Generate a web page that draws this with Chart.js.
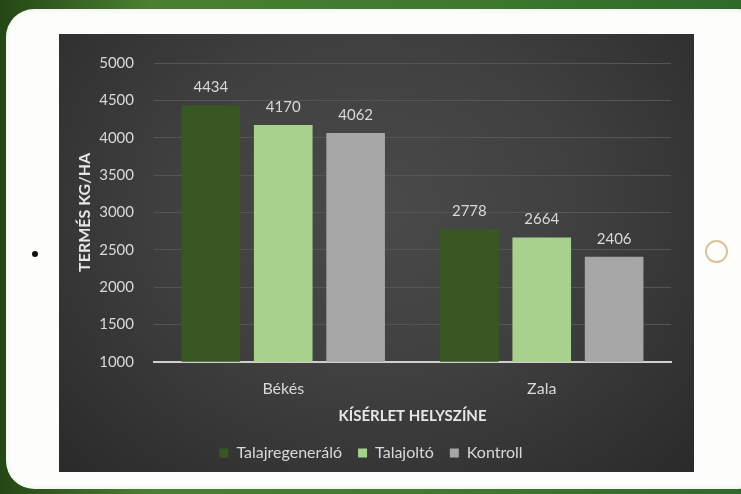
<!DOCTYPE html>
<html>
<head>
<meta charset="utf-8">
<script src="https://cdn.jsdelivr.net/npm/chart.js@4/dist/chart.umd.min.js"></script>
<style>
  html, body { margin:0; padding:0; width:741px; height:494px; overflow:hidden; }
  body { background: linear-gradient(90deg, #244716 0%, #4a8030 20%, #3f7a2e 60%, #2e6a2a 100%); position:relative; }
  #frame { position:absolute; left:6px; top:9px; width:760px; height:480px; background:#fdfdfc;
           border-radius:28px; box-shadow: inset 0 0 6px rgba(0,0,0,0.08); }
  #dot { position:absolute; left:32px; top:251px; width:6px; height:6px; border-radius:50%; background:#111; }
  #home { position:absolute; left:705px; top:240px; width:23px; height:23px; border-radius:50%;
          border:2px solid #d8c39c; box-sizing:border-box; }
  #panel { position:absolute; left:59px; top:34px; width:635px; height:438px;
           background: radial-gradient(ellipse at 50% 40%, #4a4a4a 0%, #404040 45%, #2a2a2a 100%); }
</style>
</head>
<body>
<div id="frame"></div>
<div id="dot"></div>
<div id="home"></div>
<div id="panel"><canvas id="c" width="635" height="438"></canvas></div>
<script>
"use strict";
// dati
const categories = ["Békés", "Zala"];
const seriesNames = ["Talajregeneráló", "Talajoltó", "Kontroll"];
const talajregeneralo = [4434, 2778];
const talajolto = [4170, 2664];
const kontroll = [4062, 2406];
const seriesColors = ["#385723", "#a9d18e", "#a6a6a6"];
const yMin = 1000, yMax = 5000, yStep = 500;

const testo = "#d9d9d9";
const font = "Lato, 'Open Sans', sans-serif";

// etichette sopra le barre
const etichette = {
    id: "etichette",
    afterDatasetsDraw(chart){
        let ctx = chart.ctx;
        ctx.save();
        ctx.fillStyle = testo;
        ctx.font = "15px " + font;
        ctx.textAlign = "center";
        ctx.textBaseline = "middle";
        chart.data.datasets.forEach(function(ds, i){
            let meta = chart.getDatasetMeta(i);
            meta.data.forEach(function(bar, j){
                ctx.fillText(ds.data[j], bar.x, bar.y - 18);
            });
        });
        ctx.restore();
    }
};

let valori = [talajregeneralo, talajolto, kontroll];
let datasets = [];
for (let i = 0; i < seriesNames.length; i++) {
    datasets.push({
        label: seriesNames[i],
        data: valori[i],
        backgroundColor: seriesColors[i],
        borderWidth: 0,
        categoryPercentage: 0.84,
        barPercentage: 0.81
    });
}

new Chart(document.getElementById("c"), {
    type: "bar",
    data: { labels: categories, datasets: datasets },
    plugins: [etichette],
    options: {
        responsive: false,
        animation: false,
        layout: { padding: { top: 29, right: 23, left: 12, bottom: 1 } },
        plugins: {
            tooltip: { enabled: false },
            legend: {
                position: "bottom",
                labels: { color: testo, font: { family: font, size: 16 }, boxWidth: 9, boxHeight: 9, padding: 16 }
            }
        },
        scales: {
            x: {
                grid: { display: false },
                border: { display: true, color: "#d0d0d0", width: 2 },
                ticks: { color: testo, font: { family: font, size: 16 }, padding: 9 },
                title: { display: true, text: "KÍSÉRLET HELYSZÍNE", color: "#e6e6e6",
                         font: { family: font, size: 15, weight: "bold" }, padding: { top: 0, bottom: 4 } }
            },
            y: {
                min: yMin, max: yMax,
                afterFit: function(scale){ scale.width = 83; },
                ticks: { stepSize: yStep, color: testo, font: { family: font, size: 15 }, padding: 20,
                         callback: function(v){ return String(v); } },
                grid: { color: "#555555", drawTicks: false, lineWidth: 1 },
                border: { display: false },
                title: { display: true, text: "TERMÉS KG/HA", color: "#e6e6e6",
                         font: { family: font, size: 16, weight: "bold" }, padding: { top: 4, bottom: 0 } }
            }
        }
    }
});
</script>
</body>
</html>
